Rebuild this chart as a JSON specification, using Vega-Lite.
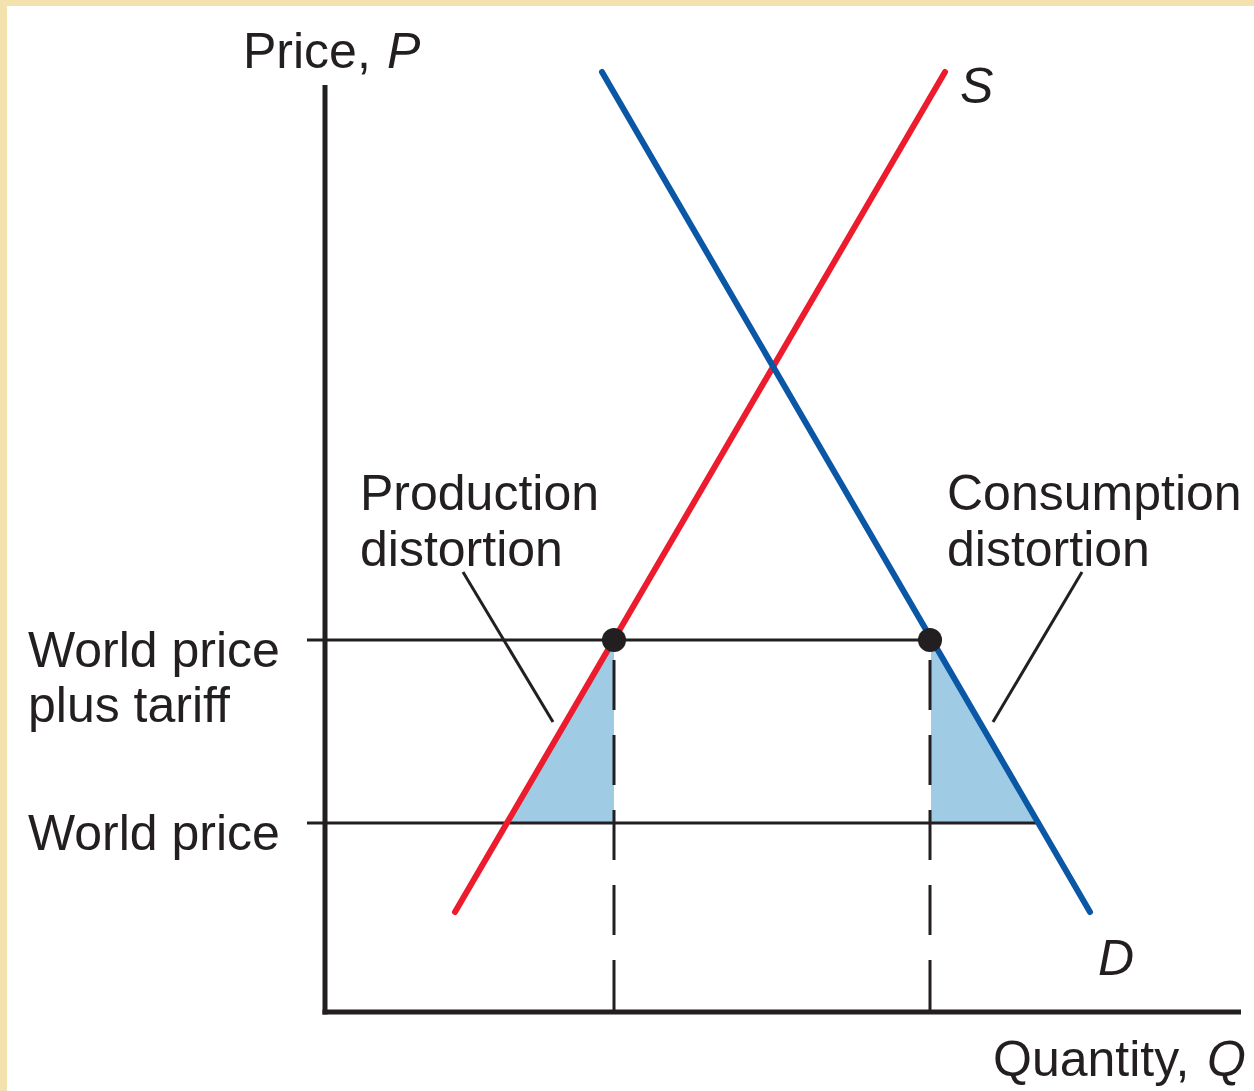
{
  "$schema": "https://vega.github.io/schema/vega-lite/v6.json",
  "autosize": {"type": "none"},
  "padding": {"left": 7, "top": 6, "right": 0, "bottom": 0},
  "width": 1247,
  "height": 1085,
  "background": "#f4e2ae",
  "config": {"view": {"fill": "white", "stroke": null}},
  "datasets": {
    "tri": [
      {"tri": "production", "q": 18.2, "p": 18.9, "p2": 18.9},
      {"tri": "production", "q": 28.9, "p": 37.2, "p2": 18.9},
      {"tri": "consumption", "q": 60.6, "p": 37.2, "p2": 18.9},
      {"tri": "consumption", "q": 71.3, "p": 18.9, "p2": 18.9}
    ],
    "hlines": [
      {"name": "World price plus tariff", "q": -1.8, "q2": 60.6, "p": 37.2},
      {"name": "World price", "q": -1.8, "q2": 71.6, "p": 18.9}
    ],
    "dashed": [
      {"q": 28.9, "p": 35.2, "p2": 0},
      {"q": 60.5, "p": 35.2, "p2": 0}
    ],
    "axes": [
      {"axis": "P", "q": 0, "q2": 0, "p": 92.7, "p2": -0.25},
      {"axis": "Q", "q": -0.25, "q2": 91.6, "p": 0, "p2": 0}
    ],
    "curves": [
      {"curve": "S", "q": 13.0, "p": 10.0},
      {"curve": "S", "q": 62.0, "p": 94.0},
      {"curve": "D", "q": 27.7, "p": 94.0},
      {"curve": "D", "q": 76.5, "p": 10.0}
    ],
    "pointers": [
      {"label": "Production distortion", "q": 13.8, "p": 44.0, "q2": 22.8, "p2": 29.0},
      {"label": "Consumption distortion", "q": 75.7, "p": 44.0, "q2": 66.8, "p2": 29.0}
    ],
    "dots": [
      {"q": 28.9, "p": 37.2},
      {"q": 60.5, "p": 37.2}
    ],
    "labels": [
      {"text": "Price,", "q": -8.2, "p": 94.4},
      {"text": "World price", "q": -29.7, "p": 34.5},
      {"text": "plus tariff", "q": -29.7, "p": 29.0},
      {"text": "World price", "q": -29.7, "p": 16.2},
      {"text": "Production", "q": 3.5, "p": 50.2},
      {"text": "distortion", "q": 3.5, "p": 44.6},
      {"text": "Consumption", "q": 62.2, "p": 50.2},
      {"text": "distortion", "q": 62.2, "p": 44.6},
      {"text": "Quantity,", "q": 66.8, "p": -6.4}
    ],
    "italics": [
      {"text": "P", "q": 6.2, "p": 94.4},
      {"text": "S", "q": 63.5, "p": 90.9},
      {"text": "D", "q": 77.3, "p": 3.7},
      {"text": "Q", "q": 88.2, "p": -6.4}
    ]
  },
  "encoding": {
    "x": {"field": "q", "type": "quantitative", "scale": {"domain": [-31.8, 92.9], "nice": false, "zero": false}, "axis": null},
    "y": {"field": "p", "type": "quantitative", "scale": {"domain": [-7.9, 100.6], "nice": false, "zero": false}, "axis": null}
  },
  "layer": [
    {
      "data": {"name": "tri"},
      "mark": {"type": "area", "color": "#9fcce4", "opacity": 1},
      "encoding": {
        "y2": {"field": "p2"},
        "detail": {"field": "tri"}
      }
    },
    {
      "data": {"name": "hlines"},
      "mark": {"type": "rule", "color": "#231f20", "strokeWidth": 3},
      "encoding": {"x2": {"field": "q2"}}
    },
    {
      "data": {"name": "dashed"},
      "mark": {"type": "rule", "color": "#231f20", "strokeWidth": 3, "strokeDash": [50, 25]},
      "encoding": {"y2": {"field": "p2"}}
    },
    {
      "data": {"name": "curves"},
      "mark": {"type": "line", "strokeWidth": 6, "strokeCap": "round"},
      "encoding": {
        "color": {"field": "curve", "type": "nominal", "scale": {"domain": ["S", "D"], "range": ["#ec1c2e", "#0a57a6"]}, "legend": null}
      }
    },
    {
      "data": {"name": "axes"},
      "mark": {"type": "rule", "color": "#231f20", "strokeWidth": 5},
      "encoding": {"x2": {"field": "q2"}, "y2": {"field": "p2"}}
    },
    {
      "data": {"name": "pointers"},
      "mark": {"type": "rule", "color": "#231f20", "strokeWidth": 3},
      "encoding": {"x2": {"field": "q2"}, "y2": {"field": "p2"}}
    },
    {
      "data": {"name": "dots"},
      "mark": {"type": "point", "filled": true, "shape": "circle", "size": 580, "color": "#231f20", "opacity": 1}
    },
    {
      "data": {"name": "labels"},
      "mark": {"type": "text", "font": "Liberation Sans", "fontSize": 50, "align": "left", "baseline": "alphabetic", "color": "#231f20"},
      "encoding": {"text": {"field": "text"}}
    },
    {
      "data": {"name": "italics"},
      "mark": {"type": "text", "font": "Liberation Sans", "fontSize": 50, "fontStyle": "italic", "align": "left", "baseline": "alphabetic", "color": "#231f20"},
      "encoding": {"text": {"field": "text"}}
    }
  ]
}
